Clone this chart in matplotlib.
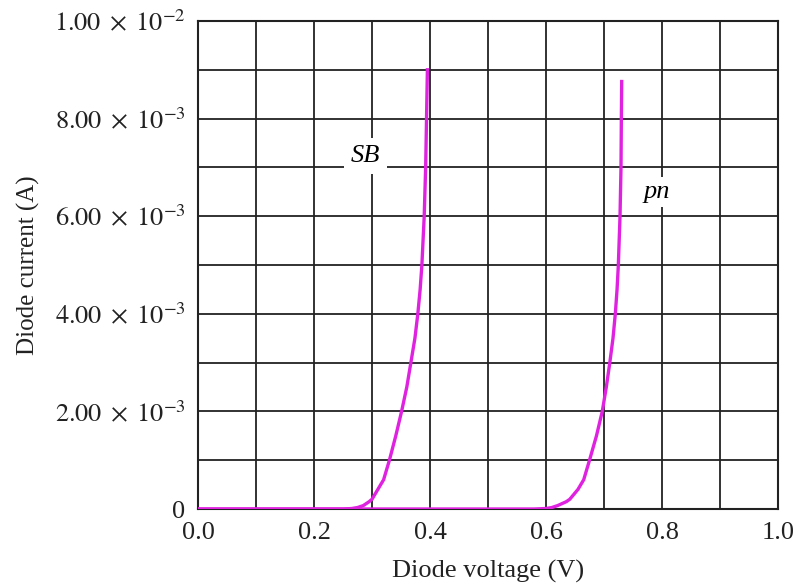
import matplotlib.pyplot as plt
from matplotlib.ticker import MultipleLocator, FixedLocator

plt.rcParams['font.family'] = ['Liberation Serif', 'DejaVu Serif']
plt.rcParams['mathtext.fontset'] = 'stix'

# Dane: napięcie [V], prąd [A]
v_sb = [0.0, 0.10, 0.20, 0.25, 0.265, 0.275, 0.285, 0.295, 0.30, 0.305, 0.31, 0.32,
        0.325, 0.33, 0.341, 0.351, 0.360, 0.367, 0.374, 0.379, 0.383, 0.386, 0.390,
        0.3925, 0.394, 0.3955]
i_sb = [0.0, 0.0, 0.0, 0.0, 0.00001, 0.00003, 0.00007, 0.00015, 0.0002, 0.0003, 0.0004,
        0.0006, 0.0008, 0.001, 0.0015, 0.002, 0.0025, 0.003, 0.0035, 0.004, 0.0045, 0.005,
        0.006, 0.007, 0.008, 0.009]

v_pn = [0.0, 0.20, 0.40, 0.58, 0.60, 0.61, 0.62, 0.635, 0.641, 0.648, 0.655, 0.66,
        0.665, 0.67, 0.675, 0.687, 0.697, 0.704, 0.710, 0.7155, 0.7195, 0.7225, 0.7247,
        0.7276, 0.7293, 0.7299, 0.7305]
i_pn = [0.0, 0.0, 0.0, 0.0, 0.00001, 0.00003, 0.00007, 0.00015, 0.0002, 0.0003, 0.0004,
        0.0005, 0.0006, 0.0008, 0.001, 0.0015, 0.002, 0.0025, 0.003, 0.0035, 0.004,
        0.0045, 0.005, 0.006, 0.007, 0.008, 0.00876]

y_ticks = [0, 0.002, 0.004, 0.006, 0.008, 0.01]
y_labels = ['0', r'$2.00\;\times\;10^{-3}$', r'$4.00\;\times\;10^{-3}$',
            r'$6.00\;\times\;10^{-3}$', r'$8.00\;\times\;10^{-3}$', r'$1.00\;\times\;10^{-2}$']
x_ticks = [0.0, 0.2, 0.4, 0.6, 0.8, 1.0]
x_labels = ['0.0', '0.2', '0.4', '0.6', '0.8', '1.0']

kolor = '#df22df'

fig = plt.figure(figsize=(8.01, 5.85), dpi=100)
ax = fig.add_axes([0.2472, 0.1299, 0.9713 - 0.2472, 0.9641 - 0.1299])

ax.plot(v_pn, i_pn, color=kolor, lw=2.4, zorder=3)
ax.plot(v_sb, i_sb, color=kolor, lw=2.4, zorder=3)

ax.set_xlim(0, 1.0)
ax.set_ylim(0, 0.01)
ax.xaxis.set_major_locator(FixedLocator(x_ticks))
ax.set_xticklabels(x_labels)
ax.yaxis.set_major_locator(FixedLocator(y_ticks))
ax.set_yticklabels(y_labels)
ax.xaxis.set_minor_locator(MultipleLocator(0.1))
ax.yaxis.set_minor_locator(MultipleLocator(0.001))
ax.grid(True, which='both', color='#222222', lw=1.3)
ax.set_axisbelow(True)
ax.tick_params(which='both', length=0, labelsize=19, colors='#222222')
ax.tick_params(axis='x', pad=9)
ax.tick_params(axis='y', pad=9)
for s in ax.spines.values():
    s.set_color('#222222')
    s.set_linewidth(1.5)

ax.text(0.289, 0.00723, 'SB', style='italic', fontsize=19, ha='center', va='center',
        bbox=dict(facecolor='white', edgecolor='none', pad=5), zorder=4)
ax.text(0.791, 0.0065, 'pn', style='italic', fontsize=19, ha='center', va='center',
        bbox=dict(facecolor='white', edgecolor='none', pad=3), zorder=4)

ax.set_xlabel('Diode voltage (V)', fontsize=19, color='#222222', labelpad=12)
ax.set_ylabel('Diode current (A)', fontsize=18, color='#222222', labelpad=10)

plt.savefig('out.png', dpi=100)
